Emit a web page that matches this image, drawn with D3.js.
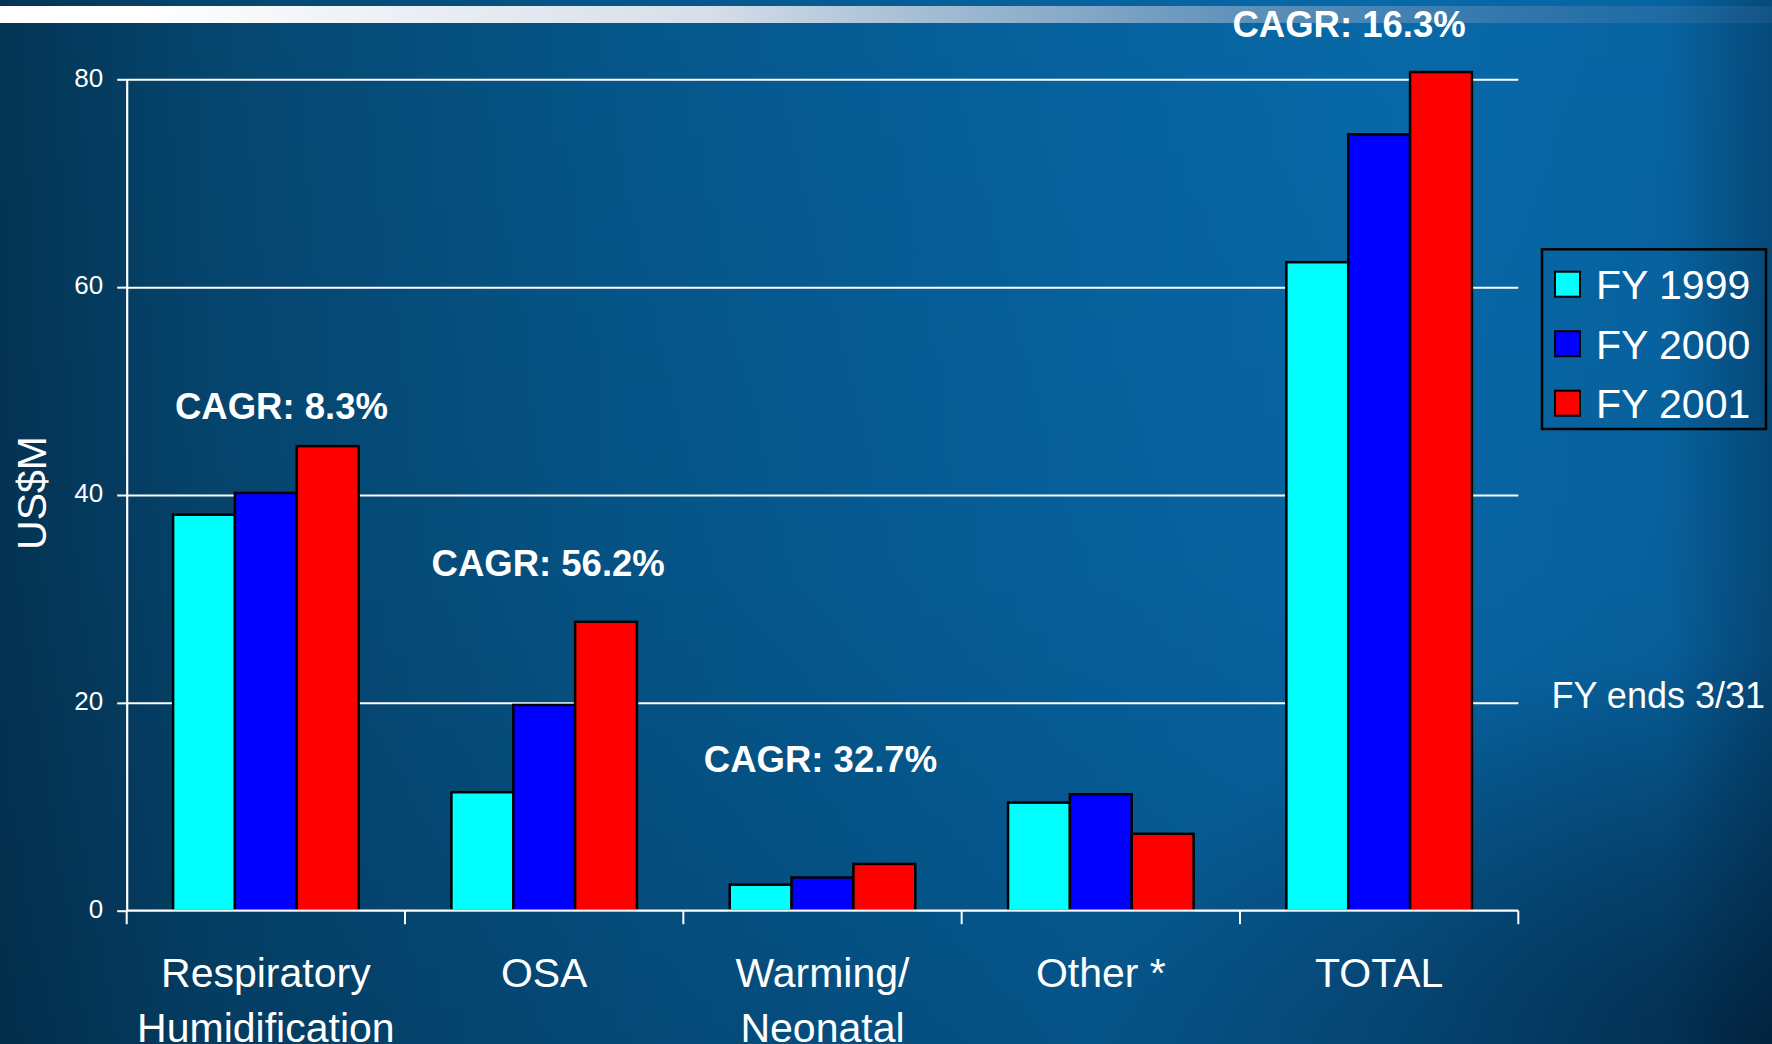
<!DOCTYPE html>
<html>
<head>
<meta charset="utf-8">
<script src="https://cdn.jsdelivr.net/npm/d3@7"></script>
<style>
  html, body { margin: 0; padding: 0; background: #054a75; }
  svg { display: block; font-family: "Liberation Sans", Arial, sans-serif; }
</style>
</head>
<body>
<svg id="chart" width="1772" height="1044"></svg>
<script>
// ---- Data ----
const categories = ["Respiratory\nHumidification", "OSA", "Warming/\nNeonatal", "Other *", "TOTAL"];
const seriesNames = ["FY 1999", "FY 2000", "FY 2001"];
const fy1999 = [38.1, 11.4, 2.5, 10.4, 62.4];
const fy2000 = [40.2, 19.8, 3.2, 11.2, 74.7];
const fy2001 = [44.7, 27.8, 4.5, 7.4, 80.7];
const yTicks = [0, 20, 40, 60, 80];
const cagrCategories = ["Respiratory\nHumidification", "OSA", "Warming/\nNeonatal", "TOTAL"];
const cagrLabels = ["CAGR: 8.3%", "CAGR: 56.2%", "CAGR: 32.7%", "CAGR: 16.3%"];
const cagrLevels = [47.3, 32.2, 13.3, 84.1];
const yAxisTitle = "US$M";
const footnote = "FY ends 3/31";

// ---- Layout ----
const W = 1772, H = 1044;
const plot = { left: 126.7, right: 1518.3, top: 79.3, bottom: 910.7 };
const colors = ["#00FFFF", "#0000FF", "#FF0000"];
const cagrOffsets = [15.6, 4, -2, -30];
const FONT = '"Liberation Sans", Arial, sans-serif';

const svg = d3.select("#chart");
const defs = svg.append("defs");

// Background gradients
const bg = defs.append("linearGradient").attr("id", "bgH").attr("x1", "0").attr("x2", "1").attr("y1", "0").attr("y2", "0");
[["0%", "#033454"], ["12%", "#05466f"], ["35%", "#05568a"], ["60%", "#06629e"], ["80%", "#0869a9"], ["94%", "#0764a2"], ["100%", "#054a7a"]]
  .forEach(([o, c]) => bg.append("stop").attr("offset", o).attr("stop-color", c));
const vg = defs.append("linearGradient").attr("id", "bgV").attr("x1", "0").attr("x2", "0").attr("y1", "0").attr("y2", "1");
[["0%", "rgba(0,20,40,0)"], ["55%", "rgba(0,20,40,0.05)"], ["100%", "rgba(0,20,40,0.2)"]]
  .forEach(([o, c]) => vg.append("stop").attr("offset", o).attr("stop-color", c));
const rg = defs.append("radialGradient").attr("id", "bgR").attr("cx", "1").attr("cy", "1").attr("r", "0.38");
[["0%", "rgba(0,20,40,0.65)"], ["100%", "rgba(0,20,40,0)"]]
  .forEach(([o, c]) => rg.append("stop").attr("offset", o).attr("stop-color", c));
const strip = defs.append("linearGradient").attr("id", "strip").attr("x1", "0").attr("x2", "1");
[["0%", "rgba(255,255,255,1)"], ["8%", "rgba(255,255,255,1)"], ["40%", "rgba(225,230,238,0.95)"], ["60%", "rgba(180,195,215,0.75)"], ["80%", "rgba(120,150,185,0.5)"], ["100%", "rgba(60,110,160,0.25)"]]
  .forEach(([o, c]) => strip.append("stop").attr("offset", o).attr("stop-color", c));

svg.append("rect").attr("width", W).attr("height", H).attr("fill", "url(#bgH)");
svg.append("rect").attr("width", W).attr("height", H).attr("fill", "url(#bgV)");
svg.append("rect").attr("width", W).attr("height", H).attr("fill", "url(#bgR)");
svg.append("rect").attr("x", 0).attr("y", 6).attr("width", W).attr("height", 17).attr("fill", "url(#strip)");

// ---- Scales ----
const x0 = d3.scaleBand().domain(categories).range([plot.left, plot.right]).paddingInner(1/3).paddingOuter(1/6);
const x1 = d3.scaleBand().domain(seriesNames).range([0, x0.bandwidth()]).padding(0);
const y = d3.scaleLinear().domain([0, 80]).range([plot.bottom, plot.top]);
const seriesVals = [fy1999, fy2000, fy2001];

// Gridlines
const grid = svg.append("g").attr("transform", `translate(${plot.left},0)`)
  .call(d3.axisLeft(y).tickValues(yTicks.filter(d => d > 0)).tickSize(-(plot.right - plot.left)).tickFormat(""));
grid.select(".domain").remove();
grid.selectAll("line").attr("stroke", "#ffffff").attr("stroke-width", 2);

// Y axis
const yAxis = svg.append("g").attr("transform", `translate(${plot.left},0)`)
  .call(d3.axisLeft(y).tickValues(yTicks).tickSize(9.5).tickSizeOuter(0).tickPadding(14));
yAxis.select(".domain").attr("stroke", "#fff").attr("stroke-width", 2.2);
yAxis.selectAll("line").attr("stroke", "#fff").attr("stroke-width", 2);
yAxis.selectAll("text").attr("fill", "#fff").attr("font-size", 26).attr("font-family", FONT).attr("dy", "0.26em");

// Bars
const groups = svg.append("g").selectAll("g").data(categories).join("g")
  .attr("transform", d => `translate(${x0(d)},0)`);
groups.selectAll("rect").data((c, i) => seriesNames.map((s, k) => ({ s, v: seriesVals[k][i], k }))).join("rect")
  .attr("x", d => x1(d.s))
  .attr("y", d => y(d.v))
  .attr("width", x1.bandwidth())
  .attr("height", d => y(0) - y(d.v))
  .attr("fill", d => colors[d.k])
  .attr("stroke", "#000").attr("stroke-width", 2.5);

// X axis
const step = x0.step();
const halfGap = (step - x0.bandwidth()) / 2;
const bounds = categories.map(c => x0(c) - halfGap).concat([x0(categories[categories.length - 1]) + x0.bandwidth() + halfGap]);
const xAxisG = svg.append("g");
xAxisG.append("line").attr("x1", plot.left).attr("x2", plot.right).attr("y1", y(0)).attr("y2", y(0))
  .attr("stroke", "#fff").attr("stroke-width", 2.2);
xAxisG.selectAll("line.tk").data(bounds).join("line").attr("class", "tk")
  .attr("x1", d => d).attr("x2", d => d).attr("y1", y(0)).attr("y2", y(0) + 13.5)
  .attr("stroke", "#fff").attr("stroke-width", 2);
const catLabels = xAxisG.selectAll("text.cat").data(categories).join("text").attr("class", "cat")
  .attr("text-anchor", "middle").attr("fill", "#fff").attr("font-size", 41).attr("font-family", FONT)
  .attr("transform", d => `translate(${x0(d) + x0.bandwidth() / 2},987)`);
catLabels.selectAll("tspan").data(d => d.split("\n")).join("tspan")
  .attr("x", 0).attr("dy", (d, i) => i === 0 ? 0 : 55).text(d => d);

// CAGR annotations
svg.append("g").selectAll("text").data(cagrLabels).join("text")
  .attr("x", (d, i) => x0(cagrCategories[i]) + x0.bandwidth() / 2 + cagrOffsets[i])
  .attr("y", (d, i) => y(cagrLevels[i]))
  .attr("text-anchor", "middle").attr("fill", "#fff").attr("font-weight", "bold")
  .attr("font-size", 36.5).attr("font-family", FONT).text(d => d);

// Y axis title
svg.append("text").attr("transform", "translate(46,493) rotate(-90)")
  .attr("text-anchor", "middle").attr("fill", "#fff").attr("font-size", 41).attr("font-family", FONT).text(yAxisTitle);

// Legend
const lg = svg.append("g");
lg.append("rect").attr("x", 1542).attr("y", 249.3).attr("width", 224).attr("height", 179.7)
  .attr("fill", "none").attr("stroke", "#000").attr("stroke-width", 2.5);
const items = lg.selectAll("g.it").data(seriesNames).join("g").attr("class", "it")
  .attr("transform", (d, i) => `translate(0,${i * 59.5})`);
items.append("rect").attr("x", 1555).attr("y", 271.7).attr("width", 25).attr("height", 25)
  .attr("fill", (d, i) => colors[i]).attr("stroke", "#000").attr("stroke-width", 2);
items.append("text").attr("x", 1596).attr("y", 299.3).attr("fill", "#fff").attr("font-size", 41)
  .attr("font-family", FONT).text(d => d);

// Footnote
svg.append("text").attr("x", 1551.5).attr("y", 707.7).attr("fill", "#fff").attr("font-size", 36)
  .attr("font-family", FONT).text(footnote);
</script>
</body>
</html>
